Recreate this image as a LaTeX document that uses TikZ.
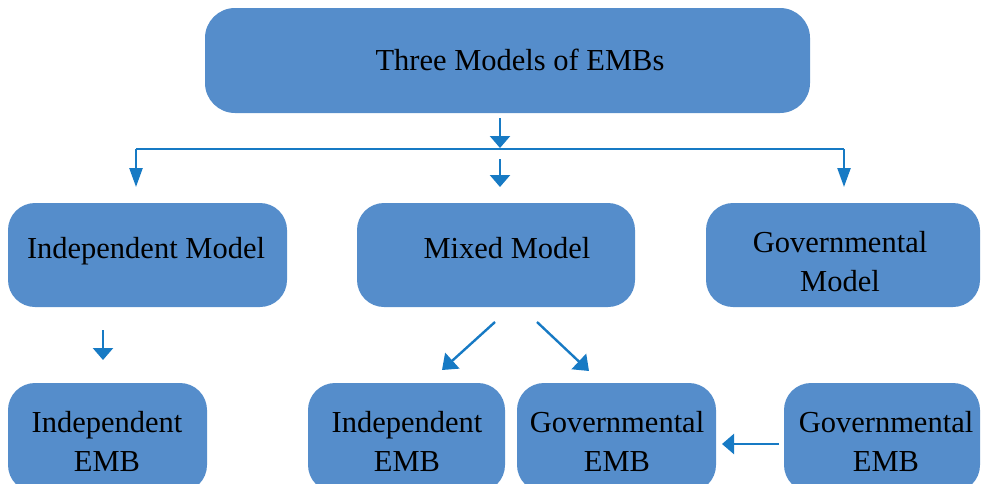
\documentclass[tikz,border=0pt]{standalone}
\usepackage{fontspec}
\setmainfont{Liberation Serif}
\usetikzlibrary{arrows.meta,calc}

\definecolor{boxfill}{RGB}{85,141,203}
\definecolor{linkblue}{RGB}{23,122,196}

\tikzset{
  x=1pt, y=-1pt,
  box/.style={fill=boxfill, draw=none, rounded corners=27pt},
  label text/.style={font=\fontsize{30.5}{39}\selectfont, text=black, align=center, inner sep=0pt, anchor=base},
  link/.style={draw=linkblue, line width=2.4pt},
  wide head/.style={-{Triangle[width=20pt,length=12pt]}},
  slant head/.style={-{Triangle[width=21pt,length=14pt]}},
  slim head/.style={-{Triangle[width=13pt,length=19pt]}},
}

% rounded box from its top-left and bottom-right corners, with a named centre
\newcommand{\roundbox}[6][27pt]{%
  \path[box, rounded corners=#1] (#3,#4) rectangle (#5,#6);
  \coordinate (#2-nw) at (#3,#4);
  \coordinate (#2-se) at (#5,#6);
  \coordinate (#2) at ($(#3,#4)!0.5!(#5,#6)$);
}

\begin{document}
\begin{tikzpicture}
  \useasboundingbox (0,0) rectangle (981,483);
  \clip (0,0) rectangle (981,483);

  % boxes
  \roundbox[30pt]{top}{205}{8}{810}{113}
  \roundbox{indm}{8}{203}{287}{307}
  \roundbox{mixm}{357}{203}{635}{307}
  \roundbox{govm}{706}{203}{980}{307}
  \roundbox{inda}{8}{383}{207}{492}
  \roundbox{indb}{308}{383}{505}{492}
  \roundbox{gova}{517}{383}{716}{492}
  \roundbox{govb}{784}{383}{980}{492}

  % labels (two-line labels are placed by the baseline of their last line)
  \node[label text] (top-t)  at (520,70)  {Three Models of EMBs};
  \node[label text] (indm-t) at (146,258) {Independent Model};
  \node[label text] (mixm-t) at (507,258) {Mixed Model};
  \node[label text] (govm-t) at (840,291) {Governmental\\Model};
  \node[label text] (inda-t) at (107,471) {Independent\\EMB};
  \node[label text] (indb-t) at (407,471) {Independent\\EMB};
  \node[label text] (gova-t) at (617,471) {Governmental\\EMB};
  \node[label text] (govb-t) at (886,471) {Governmental\\EMB};

  % connector end points
  \coordinate (c-top-a) at (500,118);
  \coordinate (c-top-b) at (500,148);
  \coordinate (c-bar-l) at (136,149);
  \coordinate (c-bar-r) at (844,149);
  \coordinate (c-left)  at (136,187);
  \coordinate (c-right) at (844,187);
  \coordinate (c-mid-a) at (500,159);
  \coordinate (c-mid-b) at (500,187);
  \coordinate (c-ind-a) at (103,330);
  \coordinate (c-ind-b) at (103,360);
  \coordinate (c-mx-a)  at (495,322);
  \coordinate (c-mx-b)  at (442,370);
  \coordinate (c-my-a)  at (537,322);
  \coordinate (c-my-b)  at (589,371);
  \coordinate (c-gv-a)  at (779,444);
  \coordinate (c-gv-b)  at (722,444);

  % connectors
  \draw[link, wide head] (c-top-a) -- (c-top-b);
  \draw[link] (c-bar-l) -- (c-bar-r);
  \draw[link, slim head] (c-bar-l) -- (c-left);
  \draw[link, slim head] (c-bar-r) -- (c-right);
  \draw[link, wide head] (c-mid-a) -- (c-mid-b);
  \draw[link, wide head] (c-ind-a) -- (c-ind-b);
  \draw[link, slant head] (c-mx-a) -- (c-mx-b);
  \draw[link, slant head] (c-my-a) -- (c-my-b);
  \draw[link, wide head] (c-gv-a) -- (c-gv-b);
\end{tikzpicture}
\end{document}
